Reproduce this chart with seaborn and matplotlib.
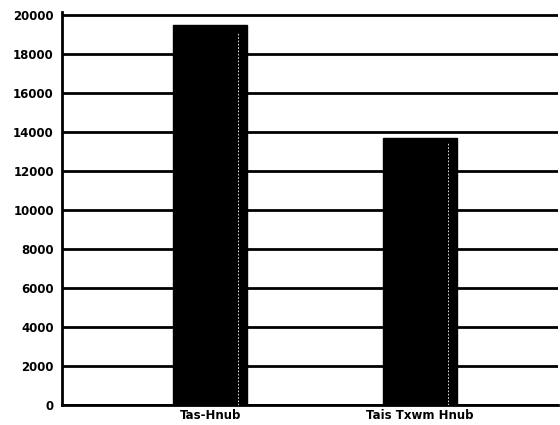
import matplotlib
matplotlib.use("Agg")
import matplotlib.pyplot as plt
import seaborn as sns
import pandas as pd
from matplotlib.ticker import FixedLocator

categories = ["Tas-Hnub", "Tais Txwm Hnub"]
values = [19500, 13700]
yticks = list(range(0, 20001, 2000))

sns.set_style("white")
plt.rcParams['font.family'] = ['DejaVu Sans']
plt.rcParams['text.color'] = 'black'
plt.rcParams['xtick.color'] = 'black'
plt.rcParams['ytick.color'] = 'black'

df = pd.DataFrame({"cat": categories, "val": values})

fig = plt.figure(figsize=(5.6, 4.25), dpi=100)
ax = fig.add_axes([0.111, 0.047, 0.885, 0.925])

sns.barplot(data=df, x="cat", y="val", color="black", width=0.35,
            edgecolor="black", linewidth=1, saturation=1, ax=ax, zorder=3)

# subtle 3D-like highlight on the right edge of each bar
for p in ax.patches:
    xr = p.get_x() + p.get_width() * 0.88
    ax.plot([xr, xr], [0, p.get_height() * 0.98], color="white", lw=0.6,
            ls=(0, (2, 2)), zorder=4)

ax.set_ylim(0, 20150)
ax.set_xlim(-0.705, 1.657)
ax.set_yticks(yticks)
ax.set_yticklabels([str(t) for t in yticks], fontsize=8.5, fontweight="bold", color="black")
ax.set_xticks(range(len(categories)))
ax.set_xticklabels(categories, fontsize=8.5, fontweight="bold", color="black")
ax.xaxis.set_minor_locator(FixedLocator([0.5, 1.65]))
ax.tick_params(axis="x", which="major", length=0, pad=3)
ax.tick_params(axis="x", which="minor", length=5, width=1.5, direction="out", color="black")
ax.tick_params(axis="y", length=5, width=1.5, direction="out", color="black", pad=1)

ax.yaxis.grid(True, color="black", linewidth=2)
ax.set_axisbelow(True)
ax.set_xlabel("")
ax.set_ylabel("")
for s in ["top", "right"]:
    ax.spines[s].set_visible(False)
ax.spines["left"].set_color("black")
ax.spines["left"].set_linewidth(2)
ax.spines["bottom"].set_color("black")
ax.spines["bottom"].set_linewidth(2)

fig.savefig("out.png", dpi=100)
